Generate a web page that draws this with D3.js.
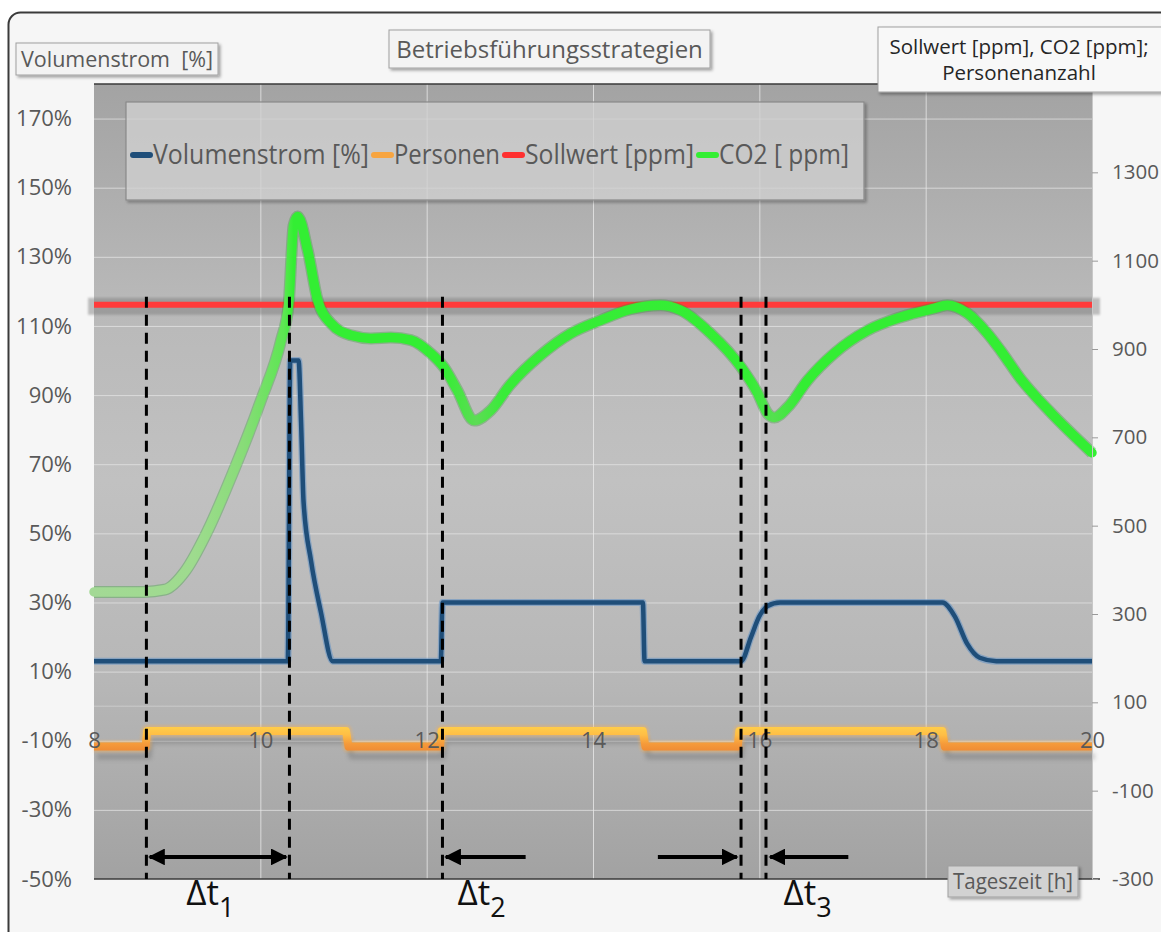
<!DOCTYPE html>
<html><head><meta charset="utf-8">
<script src="https://cdn.jsdelivr.net/npm/d3@7"></script>
<style>
html,body{margin:0;padding:0;background:#fff;}
svg{display:block;}
text{font-family:"Open Sans",sans-serif;}
</style></head><body>
<svg id="chart" width="1161" height="932"></svg>
<script>
// Tageszeit-Achse und Achsbeschriftungen
const stunden = [8, 10, 12, 14, 16, 18, 20];
const linkeTicks = [-50, -30, -10, 10, 30, 50, 70, 90, 110, 130, 150, 170];
const rechteTicks = [-300, -100, 100, 300, 500, 700, 900, 1100, 1300];

// Volumenstrom [%] über der Tageszeit [h] (linke Achse)
const volumenstrom = [
  [8, 13], [10.33, 13], [10.36, 100], [10.46, 100], [10.49, 82], [10.52, 59],
  [10.61, 42], [10.73, 27], [10.87, 13], [12.17, 13], [12.19, 30], [14.6, 30],
  [14.62, 13], [15.78, 13], [15.9, 20], [16.0, 26], [16.1, 29], [16.25, 30],
  [18.2, 30], [18.35, 26], [18.5, 18], [18.65, 14], [18.85, 13], [20, 13]
];
// Personenanzahl (rechte Achse)
const personen = [
  [8, 0], [8.62, 0], [8.64, 35], [11.03, 35], [11.06, 0], [12.16, 0], [12.18, 35],
  [14.6, 35], [14.63, 0], [15.74, 0], [15.76, 35], [18.2, 35], [18.23, 0], [20, 0]
];
// Sollwert [ppm] (rechte Achse)
const sollwert = [[8, 1000], [20, 1000]];
// CO2-Konzentration [ppm] (rechte Achse)
const co2 = [
  [8, 350], [8.6, 350], [8.85, 355], [9.1, 398], [9.35, 482], [9.67, 620], [10.0, 780],
  [10.25, 920], [10.34, 1000], [10.4, 1180], [10.45, 1200], [10.57, 1123], [10.69, 1010],
  [10.85, 958], [11.09, 931], [11.33, 924], [11.57, 926], [11.81, 920], [12.05, 890],
  [12.21, 858], [12.37, 806], [12.57, 738], [12.77, 761], [13.0, 818], [13.37, 886],
  [13.73, 935], [14.09, 965], [14.45, 990], [14.81, 999], [15.05, 988], [15.41, 936],
  [15.78, 859], [15.98, 800], [16.1, 754], [16.18, 745], [16.34, 768], [16.58, 829],
  [16.9, 890], [17.3, 942], [17.7, 972], [18.1, 992], [18.26, 999], [18.5, 981],
  [18.74, 936], [18.9, 897], [19.14, 833], [19.5, 757], [20, 665]
];
// Markierte Zeitpunkte und Zeitspannen
const markierungen = [8.63, 10.35, 12.19, 15.78, 16.08];
const pfeile = [
  { von: 8.67, bis: 10.31, beidseitig: true },
  { von: 13.19, bis: 12.23 },
  { von: 14.78, bis: 15.73 },
  { von: 17.07, bis: 16.13 }
];
const zeitspannen = [{ t: 9.4, idx: "1" }, { t: 12.66, idx: "2" }, { t: 16.58, idx: "3" }];

const legende = [
  { name: "Volumenstrom [%]", farbe: "#1f4e79", breite: 216 },
  { name: "Personen", farbe: "#f7a541", breite: 106 },
  { name: "Sollwert [ppm]", farbe: "#ff3030", breite: 169 },
  { name: "CO2 [ ppm]", farbe: "#33ee33", breite: 130 }
];

const svg = d3.select("#chart");
const P = { l: 94, r: 1092, t: 84, b: 879 };
const x = d3.scaleLinear().domain([8, 20]).range([P.l, P.r]);
const yL = d3.scaleLinear().domain([-50, 180]).range([P.b, P.t]);
const yR = d3.scaleLinear().domain([-300, 1500]).range([P.b, P.t]);
const textFarbe = "#595959";

const defs = svg.append("defs");
const bg = defs.append("linearGradient").attr("id", "plotBg")
  .attr("gradientUnits", "userSpaceOnUse").attr("x1", 0).attr("x2", 0).attr("y1", P.t).attr("y2", P.b);
[[0, "#a3a3a3"], [0.28, "#b9b9b9"], [0.5, "#c1c1c1"], [0.75, "#b7b7b7"], [1, "#a2a2a2"]]
  .forEach(([o, c]) => bg.append("stop").attr("offset", o).attr("stop-color", c));

const og = defs.append("linearGradient").attr("id", "orangeGrad")
  .attr("gradientUnits", "userSpaceOnUse").attr("x1", 0).attr("x2", 0)
  .attr("y1", yR(35) - 5).attr("y2", yR(0) + 5);
[[0, "#ffcf4a"], [0.35, "#ffbe45"], [0.7, "#f59a3a"], [1, "#ee8a34"]]
  .forEach(([o, c]) => og.append("stop").attr("offset", o).attr("stop-color", c));

const gg = defs.append("linearGradient").attr("id", "greenGrad")
  .attr("gradientUnits", "userSpaceOnUse").attr("y1", 0).attr("y2", 0).attr("x1", P.l).attr("x2", P.r);
[[0, "#a3d995"], [0.1, "#9edb8e"], [0.15, "#88dc78"], [0.19, "#5de653"], [0.2, "#33ee33"],
 [0.35, "#33ee33"], [0.383, "#5ddc55"], [0.41, "#38ec38"], [0.655, "#33ee33"], [0.68, "#55e050"],
 [0.71, "#33ee33"], [1, "#33ee33"]]
  .forEach(([o, c]) => gg.append("stop").attr("offset", o).attr("stop-color", c));

const shadow = defs.append("filter").attr("id", "boxShadow").attr("x", "-10%").attr("y", "-20%").attr("width", "130%").attr("height", "160%");
shadow.append("feDropShadow").attr("dx", 2).attr("dy", 2).attr("stdDeviation", 1.5)
  .attr("flood-color", "#000").attr("flood-opacity", 0.35);
const blur = defs.append("filter").attr("id", "soft").attr("x", "-5%").attr("y", "-50%").attr("width", "110%").attr("height", "200%");
blur.append("feGaussianBlur").attr("stdDeviation", 2);
const blur1 = defs.append("filter").attr("id", "soft1").attr("x", "-5%").attr("y", "-50%").attr("width", "110%").attr("height", "200%");
blur1.append("feGaussianBlur").attr("stdDeviation", 0.8);

// Diagrammrahmen
svg.append("rect").attr("x", 8.5).attr("y", 12.5).attr("width", 1180).attr("height", 960).attr("rx", 12)
  .attr("fill", "#f6f6f6").attr("stroke", "#3a3a3a").attr("stroke-width", 2);

// Zeichenfläche
svg.append("rect").attr("x", P.l).attr("y", P.t).attr("width", P.r - P.l).attr("height", P.b - P.t)
  .attr("fill", "url(#plotBg)");

// Gitternetz
svg.append("g").attr("transform", `translate(${P.l},0)`)
  .call(d3.axisLeft(yL).tickValues(linkeTicks.filter(d => d > -50)).tickSize(-(P.r - P.l)).tickFormat(""))
  .call(g => g.select(".domain").remove())
  .call(g => g.selectAll("line").attr("stroke", "#e4e4e4").attr("stroke-opacity", 0.75));
svg.append("g").attr("transform", `translate(0,${P.b})`)
  .call(d3.axisBottom(x).tickValues(stunden.slice(1, -1)).tickSize(-(P.b - P.t)).tickFormat(""))
  .call(g => g.select(".domain").remove())
  .call(g => g.selectAll("line").attr("stroke", "#e8e8e8").attr("stroke-opacity", 0.8));

// Rahmenlinien oben und unten
svg.append("line").attr("x1", P.l).attr("x2", P.r).attr("y1", P.t).attr("y2", P.t).attr("stroke", "#3a3a3a").attr("stroke-width", 1.5);
svg.append("line").attr("x1", P.l).attr("x2", P.r + 8).attr("y1", P.b).attr("y2", P.b).attr("stroke", "#3a3a3a").attr("stroke-width", 1.5);

// Legende
const lg = svg.append("g");
lg.append("rect").attr("x", 126).attr("y", 102).attr("width", 738).attr("height", 98)
  .attr("fill", "#d8d8d8").attr("fill-opacity", 0.72).attr("stroke", "#8a8a8a").attr("stroke-width", 1.2)
  .attr("filter", "url(#boxShadow)");
let lx = 131;
legende.forEach(e => {
  lg.append("line").attr("x1", lx + 2).attr("x2", lx + 19).attr("y1", 155).attr("y2", 155)
    .attr("stroke", e.farbe).attr("stroke-width", 6).attr("stroke-linecap", "round");
  lg.append("text").attr("x", lx + 22).attr("y", 164).attr("font-size", 27).attr("fill", textFarbe)
    .attr("textLength", e.breite).attr("lengthAdjust", "spacingAndGlyphs").text(e.name);
  lx += 22 + e.breite + 3;
});

// X-Achsenlinie (kreuzt bei 0 %)
const xAchse = d3.axisBottom(x).tickValues(stunden).tickSize(0).tickPadding(26).tickFormat(d3.format("d"));
svg.append("line").attr("x1", P.l).attr("x2", P.r).attr("y1", yL(0)).attr("y2", yL(0))
  .attr("stroke", "#d0d0d0").attr("stroke-opacity", 0.8);

// Sollwert mit Schatten
const lineR = d3.line().x(d => x(d[0])).y(d => yR(d[1]));
svg.append("rect").attr("x", P.l - 6).attr("width", P.r - P.l + 14).attr("y", yR(1000) - 7).attr("height", 17)
  .attr("fill", "#7a7a7a").attr("opacity", 0.45).attr("filter", "url(#soft1)");
svg.append("line").attr("x1", P.l - 6).attr("x2", P.r + 8).attr("y1", yR(1000) + 8).attr("y2", yR(1000) + 8)
  .attr("stroke", "#555").attr("stroke-width", 2).attr("opacity", 0.6).attr("filter", "url(#soft1)");
svg.append("path").datum(sollwert).attr("d", lineR).attr("fill", "none")
  .attr("stroke", "#ff3b3b").attr("stroke-width", 6);

// Personen
const lineP = d3.line().x(d => x(d[0])).y(d => yR(d[1]));
svg.append("path").datum(personen).attr("d", lineP).attr("fill", "none")
  .attr("stroke", "#444").attr("stroke-width", 6).attr("opacity", 0.25).attr("stroke-linejoin", "round")
  .attr("transform", "translate(3,10)").attr("filter", "url(#soft)");
svg.append("path").datum(personen).attr("d", lineP).attr("fill", "none")
  .attr("stroke", "#ffb04a").attr("stroke-width", 12).attr("opacity", 0.35).attr("stroke-linejoin", "round")
  .attr("filter", "url(#soft1)");
svg.append("path").datum(personen).attr("d", lineP).attr("fill", "none")
  .attr("stroke", "url(#orangeGrad)").attr("stroke-width", 8).attr("stroke-linejoin", "round");

// Volumenstrom
const lineV = d3.line().x(d => x(d[0])).y(d => yL(d[1])).curve(d3.curveMonotoneX);
svg.append("path").datum(volumenstrom).attr("d", lineV).attr("fill", "none")
  .attr("stroke", "#5f8fc4").attr("stroke-width", 7).attr("opacity", 0.55).attr("stroke-linejoin", "round");
svg.append("path").datum(volumenstrom).attr("d", lineV).attr("fill", "none")
  .attr("stroke", "#1f4e79").attr("stroke-width", 4.5).attr("stroke-linejoin", "round");

// CO2
const lineC = d3.line().x(d => x(d[0])).y(d => yR(d[1])).curve(d3.curveMonotoneX);
svg.append("path").datum(co2).attr("d", lineC).attr("fill", "none")
  .attr("stroke", "#2f9e2f").attr("stroke-width", 12).attr("opacity", 0.35).attr("stroke-linejoin", "round");
svg.append("path").datum(co2).attr("d", lineC).attr("fill", "none")
  .attr("stroke", "url(#greenGrad)").attr("stroke-width", 9.5).attr("stroke-linejoin", "round").attr("stroke-linecap", "round");

// X-Achsenbeschriftung über den Linien
svg.append("g").attr("transform", `translate(0,${yL(0)})`)
  .call(xAchse)
  .call(g => g.select(".domain").remove())
  .call(g => g.selectAll("text").attr("font-size", 22).attr("fill", textFarbe).attr("font-family", "Open Sans"));

// Markierungslinien
svg.append("g").selectAll("line").data(markierungen).join("line")
  .attr("x1", d => x(d)).attr("x2", d => x(d)).attr("y1", yR(1000) - 8).attr("y2", P.b)
  .attr("stroke", "#000").attr("stroke-width", 3).attr("stroke-dasharray", "11,7");

// Pfeile
const kopf = (id, dreh) => {
  defs.append("marker").attr("id", id).attr("viewBox", "0 0 10 10").attr("refX", 9).attr("refY", 5)
    .attr("markerWidth", 4.2).attr("markerHeight", 4.2).attr("markerUnits", "strokeWidth").attr("orient", dreh)
    .append("path").attr("d", "M0,0 L10,5 L0,10 Z").attr("fill", "#000");
};
kopf("pfeilEnde", "auto");
kopf("pfeilStart", "auto-start-reverse");
svg.append("g").selectAll("line").data(pfeile).join("line")
  .attr("x1", d => x(d.von)).attr("x2", d => x(d.bis)).attr("y1", yR(-250)).attr("y2", yR(-250))
  .attr("stroke", "#000").attr("stroke-width", 4)
  .attr("marker-end", "url(#pfeilEnde)")
  .attr("marker-start", d => d.beidseitig ? "url(#pfeilStart)" : null);

// Linke Achse
svg.append("g").attr("transform", `translate(${P.l},0)`)
  .call(d3.axisLeft(yL).tickValues(linkeTicks).tickSize(0).tickPadding(22).tickFormat(d => d + "%"))
  .call(g => g.select(".domain").remove())
  .call(g => g.selectAll("text").attr("font-size", 22).attr("fill", textFarbe).attr("font-family", "Open Sans"));

// Rechte Achse
svg.append("g").attr("transform", `translate(${P.r},0)`)
  .call(d3.axisRight(yR).tickValues(rechteTicks).tickSize(6).tickPadding(14).tickFormat(d => String(d)))
  .call(g => g.select(".domain").attr("stroke", "#c8c8c8"))
  .call(g => g.selectAll("line").attr("stroke", "#9a9a9a"))
  .call(g => g.selectAll("text").attr("font-size", 20.5).attr("fill", textFarbe).attr("font-family", "Open Sans"));

// Zeitspannen
const dt = svg.append("g").selectAll("text").data(zeitspannen).join("text")
  .attr("x", d => x(d.t)).attr("y", 905).attr("text-anchor", "middle")
  .attr("font-size", 35).attr("fill", "#111");
dt.append("tspan").text("Δt");
dt.append("tspan").attr("font-size", 27).attr("dy", 12).text(d => d.idx);

// Beschriftungsfelder
function feld(x0, y0, w, h, zeilen, size, farbe, fill, len, mitte) {
  const g = svg.append("g");
  const cx = mitte || x0 + w / 2;
  g.append("rect").attr("x", x0).attr("y", y0).attr("width", w).attr("height", h)
    .attr("fill", fill).attr("stroke", "#a0a0a0").attr("stroke-width", 1).attr("filter", "url(#boxShadow)");
  zeilen.forEach((z, i) => {
    const t = g.append("text").attr("x", cx).attr("y", y0 + h / 2 + size * 0.36 + (i - (zeilen.length - 1) / 2) * size * 1.3)
      .attr("text-anchor", "middle").attr("font-size", size).attr("fill", farbe).text(z);
    if (len) t.attr("textLength", len).attr("lengthAdjust", "spacingAndGlyphs");
  });
}
feld(389, 30, 321, 38, ["Betriebsführungsstrategien"], 24, textFarbe, "#f3f3f3");
feld(16, 43, 202, 32, ["Volumenstrom\u00a0\u00a0[%]"], 21.5, textFarbe, "#f3f3f3");
feld(878, 27, 300, 65, ["Sollwert [ppm], CO2 [ppm];", "Personenanzahl"], 20.5, "#262626", "#f8f8f8", null, 1019);
feld(948, 866, 130, 31, ["Tageszeit [h]"], 21, textFarbe, "#d2d2d2", 120);
</script>
</body></html>
